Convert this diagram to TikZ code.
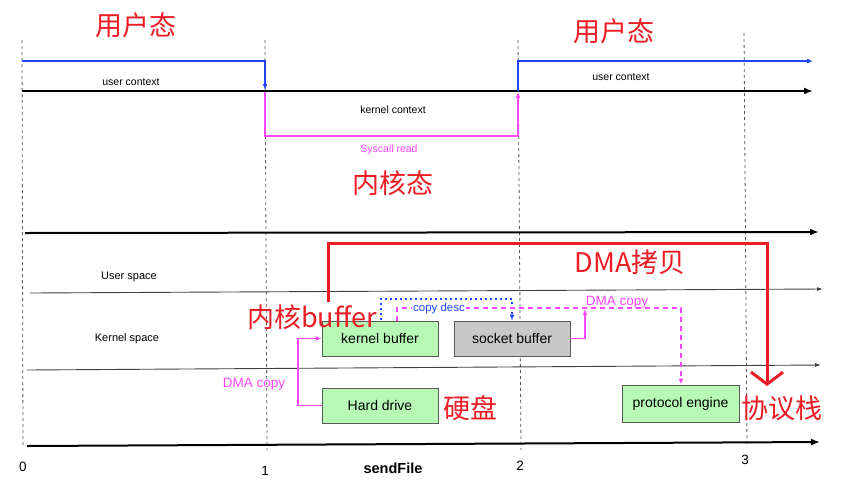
\documentclass[tikz,border=0pt]{standalone}
\usepackage{fontspec}
\setmainfont{Liberation Sans}
\newfontfamily\cjk{Noto Sans CJK SC}
\usetikzlibrary{arrows.meta}
\definecolor{myred}{RGB}{237,28,36}
\definecolor{mymag}{RGB}{255,70,255}
\definecolor{myblue}{RGB}{30,70,255}
\definecolor{boxgreen}{RGB}{182,250,182}
\definecolor{boxgray}{RGB}{200,200,200}
\tikzset{
  lbl/.style={font=\fontsize{10.5}{12}\selectfont, inner sep=0pt},
  box/.style={draw=black!65, line width=0.9pt, minimum width=116pt, minimum height=35pt,
              font=\fontsize{14}{16}\selectfont, inner sep=0pt},
  gbox/.style={box, fill=boxgreen},
  redtxt/.style={text=myred, font=\cjk\fontsize{27}{30}\selectfont, inner sep=0pt},
  vdash/.style={draw=black!65, line width=0.8pt, dash pattern=on 3pt off 3pt},
  axis/.style={line width=2pt, -{Latex[length=9pt,width=7pt]}},
  thinax/.style={line width=0.9pt, draw=black!75, -{Latex[length=6pt,width=4pt]}},
  bluel/.style={draw=myblue, line width=1.4pt, -{Latex[length=6pt,width=5pt]}},
  magl/.style={draw=mymag, line width=1.6pt, -{Latex[length=6pt,width=5pt]}},
  magd/.style={magl, dash pattern=on 5pt off 4pt},
  blued/.style={draw=myblue, line width=1.4pt, dash pattern=on 2pt off 3pt, -{Latex[length=6pt,width=5pt]}},
  redline/.style={draw=myred, line width=3pt, -{Straight Barb[length=12pt,width=32pt]}},
  num/.style={font=\fontsize{13.5}{15}\selectfont, inner sep=0pt},
  maglbl/.style={text=mymag, font=\fontsize{13.5}{15}\selectfont, inner sep=0pt},
}
\begin{document}
\begin{tikzpicture}[x=1pt,y=-1pt]
\useasboundingbox[fill=white] (0,0) rectangle (861,493);

% vertical dashed time markers
\coordinate (v0t) at (22,40);  \coordinate (v0b) at (23,445);
\coordinate (v1t) at (265,40); \coordinate (v1b) at (267,450);
\coordinate (v2t) at (518,40); \coordinate (v2b) at (521,450);
\coordinate (v3t) at (744,33); \coordinate (v3b) at (747,447);
\draw[vdash] (v0t) -- (v0b);
\draw[vdash] (v1t) -- (v1b);
\draw[vdash] (v2t) -- (v2b);
\draw[vdash] (v3t) -- (v3b);

% ---------- top timeline ----------
\coordinate (a0) at (22,91); \coordinate (a1) at (813,91);
\draw[axis] (a0) -- (a1);

\coordinate (b0) at (22,61); \coordinate (b1) at (265,61); \coordinate (b2) at (265,90);
\draw[bluel] (b0) -- (b1) -- (b2);
\coordinate (b3) at (518,91); \coordinate (b4) at (518,61); \coordinate (b5) at (813,61);
\draw[bluel] (b3) -- (b4) -- (b5);

\coordinate (m0) at (265,92); \coordinate (m1) at (265,136);
\coordinate (m2) at (518,136); \coordinate (m3) at (518,92);
\draw[magl] (m0) -- (m1) -- (m2) -- (m3);

\node[lbl] (uc1) at (131,82) {user context};
\node[lbl] (uc2) at (621,77) {user context};
\node[lbl] (kc) at (393,110) {kernel context};
\node[lbl, text=mymag] (sr) at (389,150) {Syscall read};

\node[redtxt] (u1) at (136,25) {用户态};
\node[redtxt] (u2) at (614,31) {用户态};
\node[redtxt] (k1) at (393,183) {内核态};

% ---------- bottom diagram ----------
\coordinate (h0) at (25,233);  \coordinate (h1) at (819,232);
\draw[axis] (h0) -- (h1);
\coordinate (h2) at (30,293);  \coordinate (h3) at (823,289);
\draw[thinax] (h2) -- (h3);
\coordinate (h4) at (27,370);  \coordinate (h5) at (821,365);
\draw[thinax] (h4) -- (h5);
\coordinate (h6) at (27,446);  \coordinate (h7) at (820,442);
\draw[axis] (h6) -- (h7);

\node[lbl, font=\fontsize{11}{12}\selectfont] (us) at (129,277) {User space};
\node[lbl, font=\fontsize{11}{12}\selectfont] (ks) at (127,339) {Kernel  space};

\node[gbox] (kb) at (380,338.5) {kernel buffer};
\node[box, fill=boxgray] (sb) at (512,338.5) {socket buffer};
\node[gbox] (hd) at (380,405.5) {Hard drive};
\node[gbox, minimum width=117pt, minimum height=37pt] (pe) at (680.5,403.5) {protocol engine};

% DMA copy hard drive -> kernel buffer
\coordinate (d1) at (298,405.5); \coordinate (d2) at (298,338.5);
\draw[magl] (hd.west) -- (d1) -- (d2) -- (kb.west);
\node[maglbl] (dma1) at (254,384) {DMA copy};

% copy desc (blue dotted)
\coordinate (c0) at (381,320); \coordinate (c1) at (381,299); \coordinate (c2) at (512,299);
\draw[blued] (c0) -- (c1) -- (c2) -- (sb.north);

% kernel buffer -> protocol engine (magenta dashed)
\coordinate (e0) at (397,321); \coordinate (e1) at (397,308); \coordinate (e2) at (681,308);
\draw[magd] (e0) -- (e1) -- (e2) -- (pe.north -| e2);
\node[lbl, text=myblue, fill=white, inner sep=1pt, font=\fontsize{11.5}{12}\selectfont] (cd) at (439,309) {copy desc};

% socket buffer -> DMA copy
\coordinate (s1) at (585,338.5); \coordinate (s2) at (585,309);
\draw[magl] (sb.east) -- (s1) -- (s2);
\node[maglbl] (dma2) at (617,302) {DMA copy};

% red annotations
\node[redtxt] (kbl) at (312,317) {内核buffer};
\node[redtxt] (dmal) at (630,262) {DMA拷贝};
\node[redtxt] (hdl) at (470,408) {硬盘};
\node[redtxt] (psl) at (782,408) {协议栈};
\coordinate (r0) at (328,302); \coordinate (r1) at (767,243); \coordinate (r2) at (767,386);
\draw[redline] (r0) |- (r1) -- (r2);

% axis numbers
\node[num] (n0) at (23,467) {0};
\node[num] (n1) at (265,471) {1};
\node[num, font=\bfseries\fontsize{14.5}{16}\selectfont] (sf) at (393,468) {sendFile};
\node[num] (n2) at (520,466) {2};
\node[num] (n3) at (745,460) {3};
\end{tikzpicture}
\end{document}
